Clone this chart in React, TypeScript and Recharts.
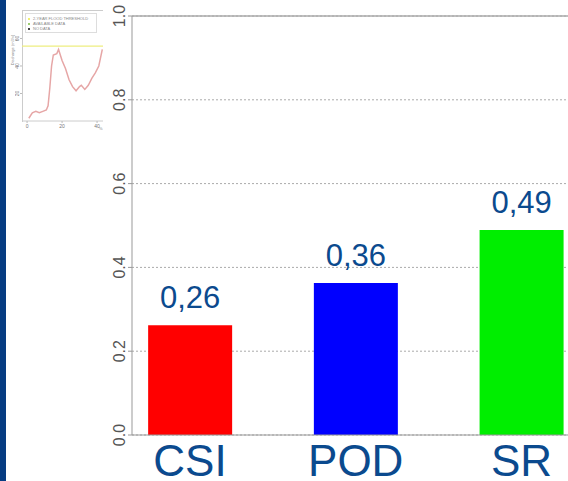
import React from 'react';
import {
  BarChart, Bar, XAxis, YAxis, CartesianGrid, ReferenceLine, Cell, LabelList,
  LineChart, Line,
} from 'recharts';

const categories = ['CSI', 'POD', 'SR'];
const scores = [0.262, 0.363, 0.489];
const barColors = ['#ff0000', '#0000ff', '#00ee00'];
const yTicks = [0, 0.2, 0.4, 0.6, 0.8, 1];
const yTickLabels = ['0.0', '0.2', '0.4', '0.6', '0.8', '1.0'];

const insetDays = [1, 3, 5, 7, 9, 11, 12, 13, 14, 15, 17, 18, 19, 20, 22, 24, 26, 28, 30, 31, 33, 35, 37, 39, 41, 43];
const insetFlow = [2, 6, 7, 6, 7, 8, 11, 24, 40, 48, 49, 52, 48, 44, 38, 30, 25, 22, 25, 26, 23, 26, 31, 35, 40, 52];
const insetThreshold = 54.5;
const insetXTicks = [0, 20, 40];
const insetYTicks = [20, 40, 60];
const insetLegend = ['2-YEAR FLOOD THRESHOLD', 'AVAILABLE DATA', 'NO DATA'];
const insetLegendColors = ['#f0ef70', '#9ccf70', '#444444'];
const insetYLabel = 'Discharge (m3/s)';

const NAVY = '#0b4a8e';
const FONT = 'Liberation Sans, Arial, sans-serif';
const barData = categories.map((c, i) => ({ x: i, name: c, value: scores[i] }));
const insetData = insetDays.map((d, i) => ({ d, q: insetFlow[i] }));

const YTick = (props: any) => {
  const { y, payload } = props;
  const idx = yTicks.indexOf(payload.value);
  const x0 = 125;
  return (
    <text x={x0} y={y} transform={`rotate(-90, ${x0}, ${y})`} textAnchor="middle"
      fontSize={16} fill="#555" fontFamily={FONT}>
      {idx >= 0 ? yTickLabels[idx] : payload.value}
    </text>
  );
};

const XTick = (props: any) => {
  const { x, payload } = props;
  return (
    <text x={x} y={476} textAnchor="middle" fontSize={44} fill={NAVY} fontFamily={FONT}>
      {categories[payload.value]}
    </text>
  );
};

const ValueLabel = (props: any) => {
  const { x, y, width, value } = props;
  return (
    <text x={x + width / 2} y={y - 17} textAnchor="middle" fontSize={31} fill={NAVY} fontFamily={FONT}>
      {Number(value).toFixed(2).replace('.', ',')}
    </text>
  );
};

const InsetXTick = (props: any) => {
  const { x, payload } = props;
  return (
    <text x={x} y={123} textAnchor="middle" fontSize={5} fill="#777" fontFamily={FONT}>
      {payload.value}
    </text>
  );
};

const InsetYTick = (props: any) => {
  const { y, payload } = props;
  return (
    <text x={4} y={y} transform={`rotate(-90, 4, ${y})`} textAnchor="middle" fontSize={5} fill="#777" fontFamily={FONT}>
      {payload.value}
    </text>
  );
};

export default function App() {
  return (
    <div style={{ position: 'absolute', left: 0, top: 0, width: 568, height: 481, overflow: 'hidden', background: '#fff' }}>
      <div style={{ position: 'absolute', left: 0, top: 0, width: 6, height: 481, background: '#063c82' }} />
      <div style={{ position: 'absolute', left: 0, top: 0 }}>
        <BarChart width={600} height={481} data={barData} margin={{ top: 16, right: 0, bottom: 0, left: 0 }}>
          <CartesianGrid horizontal vertical={false} stroke="#aaa" strokeDasharray="2 2" />
          <ReferenceLine y={1} stroke="#aaa" strokeWidth={1.5} />
          <XAxis type="number" dataKey="x" domain={[-0.35, 2.474]} ticks={[0, 1, 2]} interval={0}
            allowDataOverflow height={46} axisLine={{ stroke: '#999' }} tickLine={false} tick={<XTick />} />
          <YAxis type="number" domain={[0, 1]} ticks={yTicks} interval={0} width={132}
            axisLine={{ stroke: '#999' }} tickLine={{ stroke: '#999' }} tickSize={4} tick={<YTick />} />
          <Bar dataKey="value" barSize={84} isAnimationActive={false}>
            {barData.map((d, i) => (
              <Cell key={d.name} fill={barColors[i]} />
            ))}
            <LabelList dataKey="value" content={<ValueLabel />} />
          </Bar>
        </BarChart>
      </div>
      <div style={{ position: 'absolute', left: 9, top: 5, width: 94, height: 127, overflow: 'hidden' }}>
        <div style={{ position: 'absolute', left: 13, top: 5, width: 100, height: 111, borderTop: '1px solid #ccc', borderLeft: '1px solid #ccc' }} />
        <div style={{ position: 'absolute', left: 6, top: 0 }}>
          <LineChart width={88} height={127} data={insetData} margin={{ top: 5, right: 0, bottom: 0, left: 0 }}>
            <XAxis type="number" dataKey="d" domain={[-2.9, 43.4]} ticks={insetXTicks} interval={0} allowDataOverflow
              height={11} axisLine={{ stroke: '#ccc' }} tickLine={{ stroke: '#bbb' }} tickSize={2} tick={<InsetXTick />} />
            <YAxis type="number" domain={[0, 80.7]} ticks={insetYTicks} interval={0} width={7}
              axisLine={false} tickLine={{ stroke: '#bbb' }} tickSize={2} tick={<InsetYTick />} />
            <ReferenceLine y={insetThreshold} stroke="#eeee80" strokeWidth={1.3} />
            <Line dataKey="q" stroke="#e6a6a6" strokeWidth={1.5} dot={false} isAnimationActive={false} />
          </LineChart>
        </div>
        <svg style={{ position: 'absolute', left: 0, top: 0 }} width={8} height={127}>
          <text x={5} y={45} transform="rotate(-90, 5, 45)" textAnchor="middle" fontSize={4} fill="#888" fontFamily={FONT}>
            {insetYLabel}
          </text>
        </svg>
        <div style={{ position: 'absolute', left: 16, top: 8, width: 72, height: 20, border: '1px solid #ddd', background: '#fff',
          fontFamily: FONT, fontSize: 4, color: '#888', lineHeight: '5px', padding: '2px 2px', boxSizing: 'border-box' }}>
          {insetLegend.map((t, i) => (
            <div key={t} style={{ display: 'flex', alignItems: 'center', whiteSpace: 'nowrap' }}>
              <span style={{ display: 'inline-block', width: 2, height: 2, background: insetLegendColors[i], marginRight: 3 }} />
              {t}
            </div>
          ))}
        </div>
        <div style={{ position: 'absolute', left: 90, top: 121, fontSize: 4, color: '#888', fontFamily: FONT }}>%</div>
      </div>
    </div>
  );
}
